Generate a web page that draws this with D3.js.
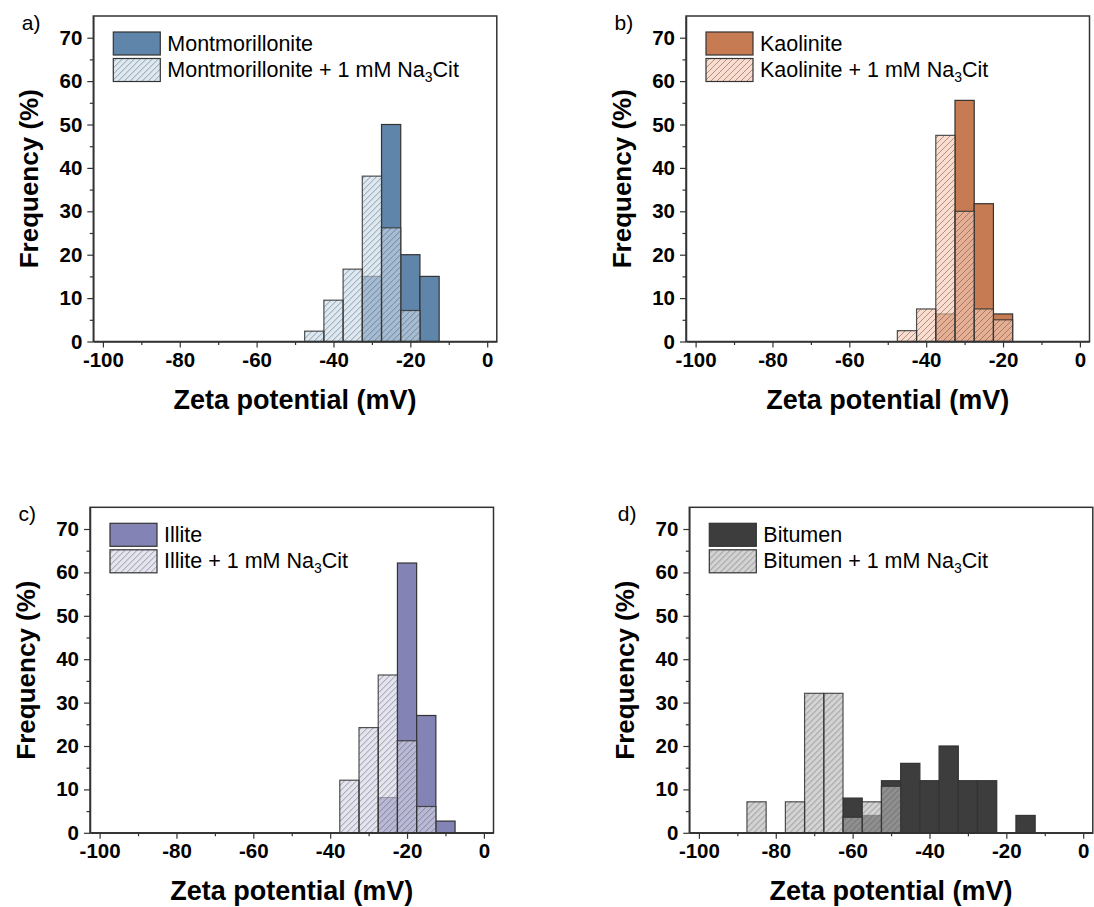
<!DOCTYPE html>
<html>
<head>
<meta charset="utf-8">
<script src="https://cdn.jsdelivr.net/npm/d3@7"></script>
<style>
  html, body { margin: 0; padding: 0; background: #fff; }
  svg { display: block; font-family: "Liberation Sans", Arial, sans-serif; }
  svg text { font-family: "Liberation Sans", Arial, sans-serif; }
</style>
</head>
<body>
<svg id="chart" width="1094" height="907"></svg>
<script>
// Zeta potential distributions (bin centres in mV, bin width 5 mV, frequency in %)
const montCenters = [-30, -25, -20, -15];
const montFreq = [15, 50, 20, 15];
const montCitCenters = [-45, -40, -35, -30, -25, -20];
const montCitFreq = [2.38, 9.52, 16.67, 38.10, 26.19, 7.14];

const kaolCenters = [-35, -30, -25, -20];
const kaolFreq = [6.35, 55.56, 31.75, 6.35];
const kaolCitCenters = [-45, -40, -35, -30, -25, -20];
const kaolCitFreq = [2.5, 7.5, 47.5, 30, 7.5, 5];

const illCenters = [-25, -20, -15, -10];
const illFreq = [8.11, 62.16, 27.03, 2.70];
const illCitCenters = [-35, -30, -25, -20, -15];
const illCitFreq = [12.12, 24.24, 36.36, 21.21, 6.06];

const bitCenters = [-60, -55, -50, -45, -40, -35, -30, -25, -15];
const bitFreq = [8, 4, 12, 16, 12, 20, 12, 12, 4];
const bitCitCenters = [-85, -75, -70, -65, -60, -55, -50];
const bitCitFreq = [7.14, 7.14, 32.14, 32.14, 3.57, 7.14, 10.71];

const binWidth = 5;
const xMajorTicks = [-100, -80, -60, -40, -20, 0];
const xMinorTicks = [-90, -70, -50, -30, -10];
const yMajorTicks = [0, 10, 20, 30, 40, 50, 60, 70];
const yMinorTicks = [5, 15, 25, 35, 45, 55, 65];

const panels = [
  { label: "a)", name: "Montmorillonite", left: 93.3, top: 16,
    solid: { c: montCenters, f: montFreq }, cit: { c: montCitCenters, f: montCitFreq },
    solidColor: "#6085aa", citColor: "rgb(202,220,235)" },
  { label: "b)", name: "Kaolinite", left: 686, top: 16,
    solid: { c: kaolCenters, f: kaolFreq }, cit: { c: kaolCitCenters, f: kaolCitFreq },
    solidColor: "#c77b53", citColor: "rgb(249,202,178)" },
  { label: "c)", name: "Illite", left: 90, top: 507.3,
    solid: { c: illCenters, f: illFreq }, cit: { c: illCitCenters, f: illCitFreq },
    solidColor: "#8383b5", citColor: "rgb(213,213,234)" },
  { label: "d)", name: "Bitumen", left: 689.3, top: 507.3,
    solid: { c: bitCenters, f: bitFreq }, cit: { c: bitCitCenters, f: bitCitFreq },
    solidColor: "#3d3d3d", citColor: "rgb(188,188,188)" }
];

const plotW = 403.5, plotH = 325.5;
const citOpacity = 0.65;
const edge = "#333";
const fontFamily = '"Liberation Sans", Arial, sans-serif';

const svg = d3.select("#chart");

// diagonal hatch used for the citrate series
const defs = svg.append("defs");
const pat = defs.append("pattern")
  .attr("id", "hatch")
  .attr("patternUnits", "userSpaceOnUse")
  .attr("width", 6).attr("height", 6);
pat.append("path")
  .attr("d", "M-1,1 l2,-2 M0,6 l6,-6 M5,7 l2,-2")
  .attr("stroke", "#4a4a4a").attr("stroke-opacity", 0.55)
  .attr("stroke-width", 0.9);

panels.forEach(p => {
  const g = svg.append("g").attr("transform", `translate(${p.left},${p.top})`);
  const x = d3.scaleLinear().domain([-102.5, 2.5]).range([0, plotW]);
  const y = d3.scaleLinear().domain([0, 75]).range([plotH, 0]);

  const solidData = p.solid.c.map((c, i) => ({ c, f: p.solid.f[i] }));
  const citData = p.cit.c.map((c, i) => ({ c, f: p.cit.f[i] }));
  const bx = d => x(d.c - binWidth / 2);
  const bw = d => x(d.c + binWidth / 2) - x(d.c - binWidth / 2);

  // plain series
  g.append("g").selectAll("rect").data(solidData).join("rect")
    .attr("x", bx).attr("width", bw)
    .attr("y", d => y(d.f))
    .attr("height", d => y(0) - y(d.f))
    .attr("fill", p.solidColor)
    .attr("stroke", edge).attr("stroke-width", 1.2);

  // citrate series, translucent and hatched, drawn on top
  const cg = g.append("g");
  cg.selectAll("rect.fill").data(citData).join("rect")
    .attr("class", "fill")
    .attr("x", bx).attr("width", bw)
    .attr("y", d => y(d.f)).attr("height", d => y(0) - y(d.f))
    .attr("fill", p.citColor).attr("fill-opacity", citOpacity);
  cg.selectAll("rect.hatch").data(citData).join("rect")
    .attr("class", "hatch")
    .attr("x", bx).attr("width", bw)
    .attr("y", d => y(d.f)).attr("height", d => y(0) - y(d.f))
    .attr("fill", "url(#hatch)")
    .attr("stroke", edge).attr("stroke-opacity", 0.85).attr("stroke-width", 1.2);

  // axes
  const styleTicks = sel => sel.selectAll("text")
    .style("font-family", fontFamily)
    .style("font-size", "20.5px")
    .style("font-weight", "bold")
    .attr("fill", "#000");

  const xAxis = g.append("g").attr("transform", `translate(0,${plotH})`)
    .call(d3.axisBottom(x).tickValues(xMajorTicks).tickSize(6).tickSizeOuter(0).tickPadding(5)
      .tickFormat(d => d === 0 ? "0" : "-" + Math.abs(d)));
  styleTicks(xAxis);
  g.append("g").attr("transform", `translate(0,${plotH})`)
    .call(d3.axisBottom(x).tickValues(xMinorTicks).tickSize(3.5).tickSizeOuter(0).tickFormat(""))
    .select(".domain").remove();

  const yAxis = g.append("g")
    .call(d3.axisLeft(y).tickValues(yMajorTicks).tickSize(6).tickSizeOuter(0).tickPadding(5));
  styleTicks(yAxis);
  g.append("g")
    .call(d3.axisLeft(y).tickValues(yMinorTicks).tickSize(3.5).tickSizeOuter(0).tickFormat(""))
    .select(".domain").remove();

  g.selectAll(".domain").attr("stroke", "#333").attr("stroke-width", 1.5);
  g.selectAll(".tick line").attr("stroke", "#333").attr("stroke-width", 1.2);

  // frame
  g.append("rect").attr("x", 0).attr("y", 0).attr("width", plotW).attr("height", plotH)
    .attr("fill", "none").attr("stroke", "#333").attr("stroke-width", 1.5);

  // axis titles
  g.append("text")
    .attr("x", plotW / 2).attr("y", plotH + 67)
    .attr("text-anchor", "middle").style("font-size", "27px").style("font-weight", "bold")
    .text("Zeta potential (mV)");
  g.append("text")
    .attr("transform", `translate(-55,${plotH / 2}) rotate(-90)`)
    .attr("text-anchor", "middle").style("font-size", "26px").style("font-weight", "bold")
    .text("Frequency (%)");

  // panel label
  svg.append("text")
    .attr("x", p.left - 71.5).attr("y", p.top + 13.5)
    .style("font-size", "21px").text(p.label);

  // legend
  const lg = g.append("g").attr("transform", "translate(20,16)");
  lg.append("rect").attr("x", 0).attr("y", 0).attr("width", 47).attr("height", 23)
    .attr("fill", p.solidColor).attr("stroke", edge).attr("stroke-width", 1.2);
  lg.append("rect").attr("x", 0).attr("y", 26.5).attr("width", 47).attr("height", 23)
    .attr("fill", p.citColor).attr("fill-opacity", citOpacity);
  lg.append("rect").attr("x", 0).attr("y", 26.5).attr("width", 47).attr("height", 23)
    .attr("fill", "url(#hatch)").attr("stroke", edge).attr("stroke-width", 1.2);
  lg.append("text").attr("x", 54).attr("y", 19).style("font-size", "21.5px").text(p.name);
  const t2 = lg.append("text").attr("x", 54).attr("y", 44.5).style("font-size", "21.5px");
  t2.append("tspan").text(p.name + " + 1 mM Na");
  t2.append("tspan").style("font-size", "14px").attr("dy", 5).text("3");
  t2.append("tspan").attr("dy", -5).text("Cit");
});
</script>
</body>
</html>
